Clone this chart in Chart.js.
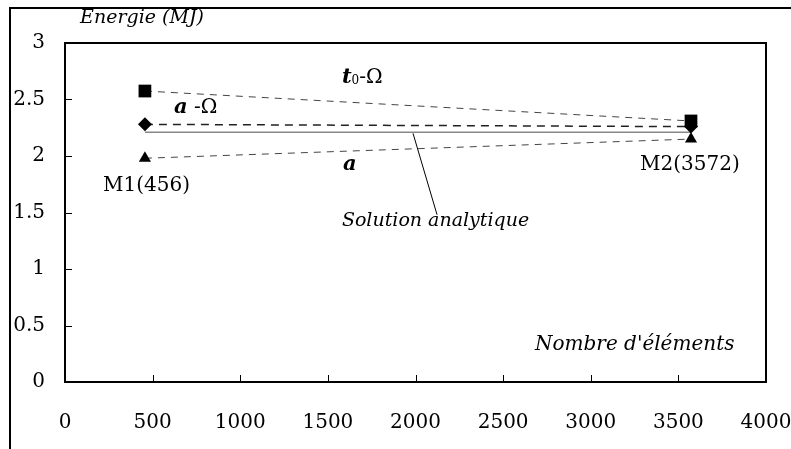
<!DOCTYPE html>
<html>
<head>
<meta charset="utf-8">
<script src="https://cdn.jsdelivr.net/npm/chart.js@4"></script>
<style>
  html, body { margin: 0; padding: 0; background: #fff; }
  #wrap { width: 791px; height: 449px; }
</style>
</head>
<body>
<div id="wrap"><canvas id="energyChart" width="791" height="449"></canvas></div>
<script>
// maillages M1 / M2 (nombre d'elements)
const nElements = [456, 3572];
const t0Omega = [2.575, 2.31];
const aOmega = [2.28, 2.26];
const aOnly = [1.98, 2.15];
const analytic = [2.21, 2.21];

const xMin = 0, xMax = 4000, xStep = 500;
const yMin = 0, yMax = 3, yStep = 0.5;

const serif = "'DejaVu Serif', 'Liberation Serif', serif";

function pts(ys) {
    return nElements.map((x, i) => ({ x: x, y: ys[i] }));
}

// textes places en coordonnees des donnees
const notes = [
    { x: 86, y: 3.22, parts: [{ t: 'Energie (MJ)', f: 'italic 19px ' + serif }] },
    { x: 1580, y: 2.69, parts: [
        { t: 't', f: 'bold italic 21px ' + serif },
        { t: '0', f: '12px ' + serif, dy: 3 },
        { t: '-Ω', f: '20px ' + serif }
    ] },
    { x: 622, y: 2.43, parts: [
        { t: 'a', f: 'bold italic 21px ' + serif },
        { t: ' -Ω', f: '20px ' + serif }
    ] },
    { x: 1586, y: 1.92, parts: [{ t: 'a', f: 'bold italic 21px ' + serif }] },
    { x: 217, y: 1.74, parts: [{ t: 'M1(456)', f: '20px ' + serif }] },
    { x: 3281, y: 1.92, parts: [{ t: 'M2(3572)', f: '20px ' + serif }] },
    { x: 1580, y: 1.42, parts: [{ t: 'Solution analytique', f: 'italic 19px ' + serif }] },
    { x: 2682, y: 0.327, parts: [{ t: "Nombre d'éléments", f: 'italic 20px ' + serif }] }
];
const leader = [{ x: 1986, y: 2.20 }, { x: 2123, y: 1.48 }];

const decor = {
    id: 'decor',
    beforeDraw(chart) {
        const c = chart.ctx;
        c.save();
        c.strokeStyle = '#000';
        c.lineWidth = 2;
        c.beginPath();
        c.moveTo(10, 449);
        c.lineTo(10, 8);
        c.lineTo(791, 8);
        c.stroke();
        c.restore();
    },
    afterDraw(chart) {
        const c = chart.ctx;
        const a = chart.chartArea;
        const xs = chart.scales.x, ys = chart.scales.y;
        c.save();
        c.strokeStyle = '#000';
        c.lineWidth = 2;
        c.strokeRect(a.left, a.top, a.right - a.left, a.bottom - a.top);
        // petites graduations vers l'interieur
        c.lineWidth = 1;
        c.beginPath();
        for (let v = xMin + xStep; v < xMax; v += xStep) {
            const px = Math.round(xs.getPixelForValue(v)) + 0.5;
            c.moveTo(px, a.bottom);
            c.lineTo(px, a.bottom - 7);
        }
        for (let v = yMin + yStep; v < yMax; v += yStep) {
            const py = Math.round(ys.getPixelForValue(v)) + 0.5;
            c.moveTo(a.left, py);
            c.lineTo(a.left + 7, py);
        }
        c.stroke();
        // trait vers la solution analytique
        c.beginPath();
        c.moveTo(xs.getPixelForValue(leader[0].x), ys.getPixelForValue(leader[0].y));
        c.lineTo(xs.getPixelForValue(leader[1].x), ys.getPixelForValue(leader[1].y));
        c.stroke();
        c.fillStyle = '#000';
        c.textBaseline = 'middle';
        c.textAlign = 'left';
        notes.forEach(n => {
            let px = xs.getPixelForValue(n.x);
            const py = ys.getPixelForValue(n.y);
            n.parts.forEach(p => {
                c.font = p.f;
                c.fillText(p.t, px, py + (p.dy || 0));
                px += c.measureText(p.t).width;
            });
        });
        c.restore();
    }
};

const ctx = document.getElementById('energyChart').getContext('2d');
const energyChart = new Chart(ctx, {
    type: 'scatter',
    data: {
        datasets: [{
            label: 't0-Omega',
            data: pts(t0Omega),
            showLine: true,
            borderColor: '#444',
            borderWidth: 1,
            borderDash: [7, 6],
            pointStyle: 'rect',
            pointRadius: 9,
            pointBackgroundColor: '#000',
            pointBorderWidth: 0
        }, {
            label: 'a-Omega',
            data: pts(aOmega),
            showLine: true,
            borderColor: '#222',
            borderWidth: 1.5,
            borderDash: [8, 6],
            pointStyle: 'rectRot',
            pointRadius: 7,
            pointBackgroundColor: '#000',
            pointBorderWidth: 0
        }, {
            label: 'a',
            data: pts(aOnly),
            showLine: true,
            borderColor: '#444',
            borderWidth: 1,
            borderDash: [7, 6],
            pointStyle: 'triangle',
            pointRadius: 7,
            pointBackgroundColor: '#000',
            pointBorderWidth: 0
        }, {
            label: 'Solution analytique',
            data: pts(analytic),
            showLine: true,
            borderColor: '#888',
            borderWidth: 1.5,
            pointRadius: 0
        }]
    },
    options: {
        responsive: false,
        animation: false,
        layout: {
            padding: { left: 10, top: 43, right: 0, bottom: 0 }
        },
        scales: {
            x: {
                type: 'linear',
                min: xMin,
                max: xMax,
                afterFit: s => {
                    s.height = 67;
                    s.paddingLeft = 0;
                    s.paddingRight = 25;
                },
                ticks: {
                    stepSize: xStep,
                    padding: 29,
                    color: '#000',
                    font: { family: serif, size: 20 },
                    callback: v => String(v)
                },
                grid: { display: false, drawTicks: false },
                border: { color: '#000', width: 2 }
            },
            y: {
                min: yMin,
                max: yMax,
                afterFit: s => { s.width = 55; },
                ticks: {
                    stepSize: yStep,
                    padding: 20,
                    color: '#000',
                    font: { family: serif, size: 20 },
                    callback: v => String(v)
                },
                grid: { display: false, drawTicks: false },
                border: { color: '#000', width: 2 }
            }
        },
        plugins: {
            legend: { display: false },
            tooltip: { enabled: false }
        }
    },
    plugins: [decor]
});
</script>
</body>
</html>
